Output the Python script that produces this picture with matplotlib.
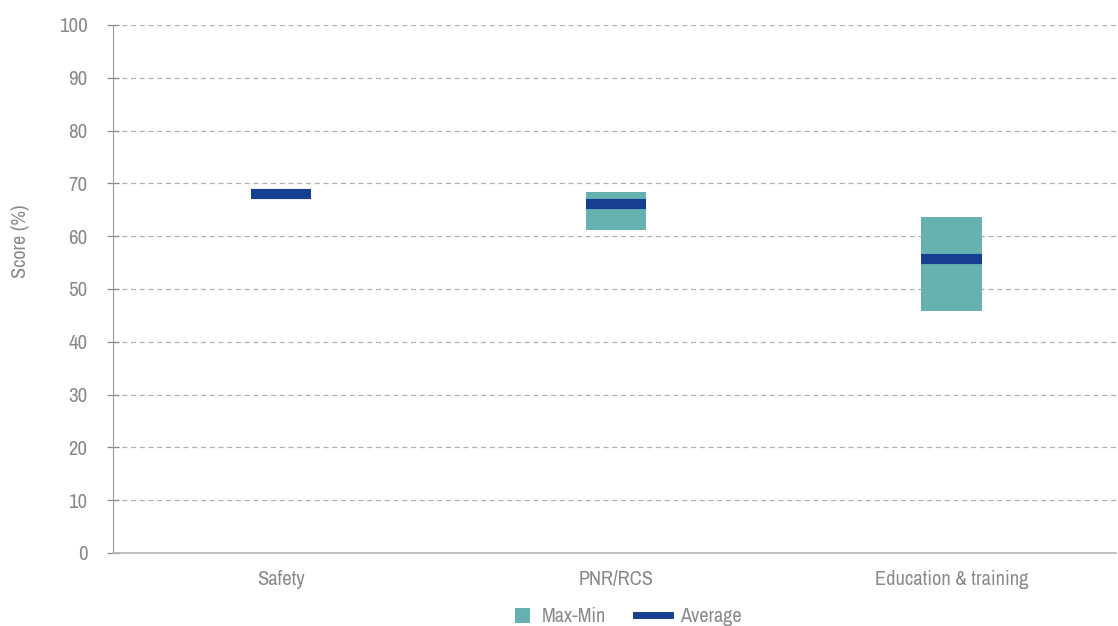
import matplotlib
matplotlib.use("Agg")
import matplotlib.pyplot as plt
from matplotlib.patches import Patch, Rectangle
from matplotlib.lines import Line2D
from matplotlib.legend_handler import HandlerPatch
from matplotlib import font_manager

categories = ["Safety", "PNR/RCS", "Education & training"]
max_vals = [68.0, 68.4, 63.6]
min_vals = [68.0, 61.2, 45.8]
avg_vals = [68.0, 66.1, 55.7]
yticks = list(range(0, 101, 10))

fonts = font_manager.fontManager.ttflist
narrow = [f.name for f in fonts if ("Narrow" in f.name or "Condensed" in f.name)]
cond_stretch = [f.name for f in fonts if f.stretch in ("condensed", "semi-condensed", 400, "extra-condensed")]
if narrow:
    fam = [narrow[0], "DejaVu Sans"]
    stretch = "normal"
elif cond_stretch:
    fam = [cond_stretch[0], "DejaVu Sans"]
    stretch = "condensed"
else:
    fam = ["DejaVu Sans"]
    stretch = "normal"
plt.rcParams["font.family"] = fam
plt.rcParams["font.stretch"] = stretch

teal = "#67B1B1"
navy = "#173F91"
gray = "#8a8a8a"

fig = plt.figure(figsize=(11.18, 6.26), dpi=100)
ax = fig.add_axes([113/1118, 1 - 553/626, (1116-113)/1118, (553-25)/626])

x = list(range(len(categories)))
heights = [mx - mn for mx, mn in zip(max_vals, min_vals)]
ax.bar(x, heights, bottom=min_vals, width=0.18, color=teal, zorder=2)
ax.hlines(avg_vals, [i - 0.09 for i in x], [i + 0.09 for i in x], color=navy, lw=7.3, zorder=3)

ax.set_xlim(-0.5, 2.49)
ax.set_ylim(0, 100)
ax.set_yticks(yticks)
ax.yaxis.grid(True, linestyle=(0, (4, 3)), color="#b0b0b0", lw=0.9)
ax.set_axisbelow(True)
ax.set_xticks(x)
ax.set_xticklabels(categories, fontsize=14.7, color=gray)
ax.tick_params(axis="x", length=0, pad=12)
ax.tick_params(axis="y", labelsize=15, colors=gray, length=8, direction="inout", width=0.9, pad=14.5)
for lbl in ax.get_yticklabels():
    lbl.set_color(gray)
for s in ["top", "right"]:
    ax.spines[s].set_visible(False)
ax.spines["left"].set_color("#9a9a9a")
ax.spines["bottom"].set_color("#b5b5b5")
ax.spines["bottom"].set_linewidth(1.2)
ax.set_ylabel("Score (%)", fontsize=14.5, color=gray)
ax.yaxis.set_label_coords(-0.083, 0.59)


def square_patch(legend, orig_handle, xdescent, ydescent, width, height, fontsize):
    s = 10.8
    return Rectangle((-xdescent + width - s - 1, -ydescent + (height - s) / 2), s, s)


handles = [Patch(facecolor=teal, edgecolor="none"),
           Line2D([0], [0], color=navy, lw=5)]
leg = ax.legend(handles, ["Max-Min", "Average"], loc="upper center",
                bbox_to_anchor=(0.505, -0.08), ncol=2, frameon=False,
                fontsize=14.5, labelcolor=gray, handlelength=1.7, columnspacing=1.5,
                handletextpad=0.5, borderpad=0.1,
                handler_map={Patch: HandlerPatch(patch_func=square_patch)})

fig.savefig("out.png", dpi=100)
